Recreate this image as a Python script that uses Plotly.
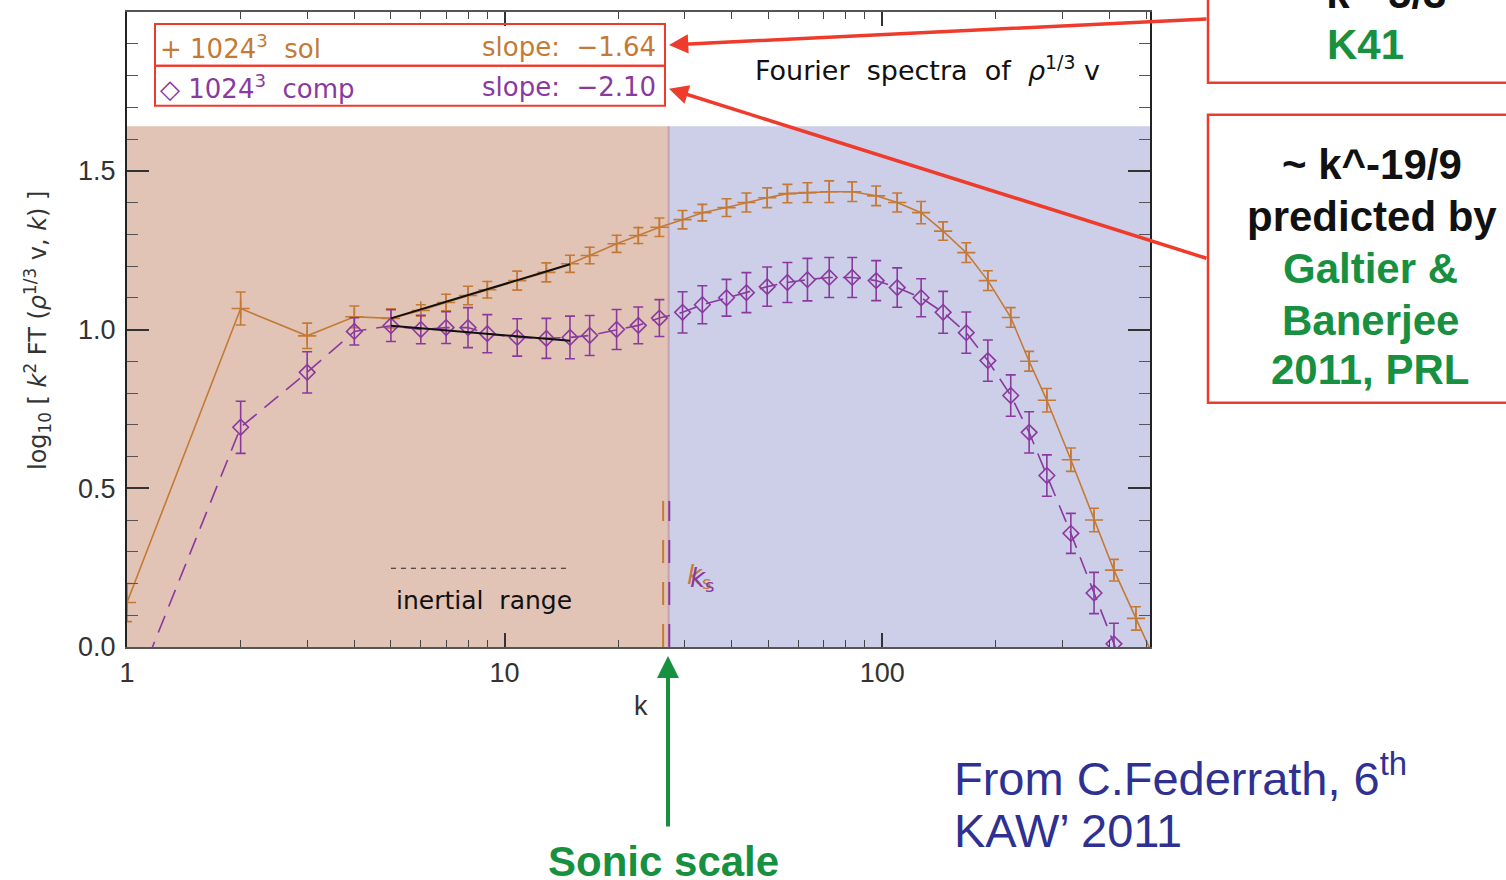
import math
import plotly.graph_objects as go

# Wavenumber bins and compensated spectra log10[k^2 FT(rho^(1/3) v, k)]
k = [1, 2, 3, 4, 5, 6, 7, 8, 9, 10.8, 12.9, 14.9, 16.8, 19.8, 22.6, 25.7, 29.6,
     33.4, 38.7, 43.7, 49.6, 56.1, 63.4, 72.4, 83.3, 96.4, 109.6, 126.8, 145,
     167, 190.5, 219, 245, 273, 316, 364, 411, 470, 532]

sol = [0.14, 1.066, 0.98, 1.04, 1.035, 1.06, 1.085, 1.107, 1.125, 1.154, 1.18,
       1.207, 1.233, 1.27, 1.296, 1.322, 1.346, 1.368, 1.384, 1.40, 1.415, 1.428,
       1.431, 1.434, 1.434, 1.421, 1.40, 1.368, 1.31, 1.242, 1.154, 1.038, 0.90,
       0.777, 0.59, 0.40, 0.242, 0.09, -0.05]
sol_err = [0.06, 0.052, 0.04, 0.034, 0.03, 0.018, 0.026, 0.029, 0.026, 0.03, 0.03,
           0.027, 0.026, 0.027, 0.025, 0.029, 0.029, 0.026, 0.028, 0.03, 0.031,
           0.029, 0.031, 0.034, 0.031, 0.031, 0.03, 0.035, 0.029, 0.031, 0.031,
           0.031, 0.031, 0.037, 0.037, 0.037, 0.034, 0.037, 0.037]

comp = [-0.2, 0.692, 0.865, 0.994, 1.012, 1.0, 1.006, 1.006, 0.987, 0.975, 0.972,
        0.975, 0.981, 1.0, 1.013, 1.036, 1.054, 1.078, 1.10, 1.116, 1.135, 1.148,
        1.157, 1.164, 1.164, 1.154, 1.132, 1.10, 1.054, 0.99, 0.902, 0.792, 0.676,
        0.54, 0.358, 0.17, 0.01, -0.18, None]
comp_err = [0.08, 0.082, 0.065, 0.043, 0.05, 0.045, 0.05, 0.063, 0.06, 0.059, 0.063,
            0.067, 0.063, 0.063, 0.058, 0.058, 0.065, 0.06, 0.058, 0.063, 0.062,
            0.063, 0.067, 0.063, 0.063, 0.063, 0.062, 0.06, 0.066, 0.065, 0.065,
            0.065, 0.065, 0.065, 0.063, 0.065, 0.065, 0.065, 0.065]

# Inertial-range power-law fits (slopes of the uncompensated spectra)
fit_k = [5, 14.9]
sol_slope, comp_slope = -1.64, -2.10
sol_fit_at5, comp_fit_at5 = 1.035, 1.012

# Sonic scales
ks_sol, ks_comp = 26.3, 27.3
ks_split = 27.2

ORANGE = "#C47A36"
PURPLE = "#8A3A9E"
RED = "#EF3B2C"
GREEN = "#17903F"
NAVY = "#2E3192"

W, H = 1506, 880
L, R, T, B = 127, 1150, 10, 647


def PX(x):
    return (x - L) / (R - L)


def PY(y):
    return (B - y) / (B - T)


def fit_line(a_at5, slope):
    c = 2 + slope
    return [a_at5 + c * (math.log10(kk) - math.log10(5)) for kk in fit_k]


fig = go.Figure()

# solenoidal run
fig.add_trace(go.Scatter(
    x=k, y=sol, mode="lines+markers",
    line=dict(color=ORANGE, width=1.6),
    marker=dict(symbol="cross-thin", size=13, line=dict(color=ORANGE, width=1.6)),
    error_y=dict(type="data", array=sol_err, color=ORANGE, thickness=1.6, width=5),
    showlegend=False, cliponaxis=True))

# compressive run
fig.add_trace(go.Scatter(
    x=k, y=comp, mode="lines+markers",
    line=dict(color=PURPLE, width=1.6, dash="18px,10px"),
    marker=dict(symbol="diamond-open", size=12, color=PURPLE, line=dict(width=1.6)),
    error_y=dict(type="data", array=comp_err, color=PURPLE, thickness=1.6, width=5),
    showlegend=False, connectgaps=False, cliponaxis=True))

# power-law fits over the inertial range
fig.add_trace(go.Scatter(x=fit_k, y=fit_line(sol_fit_at5, sol_slope), mode="lines",
                         line=dict(color="#111111", width=2), showlegend=False))
fig.add_trace(go.Scatter(x=fit_k, y=fit_line(comp_fit_at5, comp_slope), mode="lines",
                         line=dict(color="#111111", width=2), showlegend=False))

# inertial range marker
fig.add_trace(go.Scatter(x=fit_k, y=[0.248, 0.248], mode="lines",
                         line=dict(color="#222222", width=1.2, dash="5px,5px"),
                         showlegend=False))

# sonic-scale markers
fig.add_trace(go.Scatter(x=[ks_sol, ks_sol], y=[0, 0.46], mode="lines",
                         line=dict(color=ORANGE, width=2, dash="23px,19px"),
                         showlegend=False))
fig.add_trace(go.Scatter(x=[ks_comp, ks_comp], y=[0, 0.46], mode="lines",
                         line=dict(color=PURPLE, width=2, dash="23px,19px"),
                         showlegend=False))

shapes = [
    dict(type="rect", xref="x", yref="y", x0=1, x1=ks_split, y0=0, y1=1.64,
         fillcolor="rgb(226,196,182)", line=dict(width=0), layer="below"),
    dict(type="rect", xref="x", yref="y", x0=ks_split, x1=512, y0=0, y1=1.64,
         fillcolor="rgb(205,207,233)", line=dict(width=0), layer="below"),
    dict(type="line", xref="x", yref="y", x0=ks_split, x1=ks_split, y0=0, y1=1.64,
         line=dict(color="rgba(190,150,170,0.8)", width=2), layer="below"),
    # legend frame
    dict(type="rect", xref="paper", yref="paper", x0=PX(155), x1=PX(665),
         y0=PY(64), y1=PY(22), line=dict(color=RED, width=2)),
    dict(type="rect", xref="paper", yref="paper", x0=PX(155), x1=PX(665),
         y0=PY(104), y1=PY(64), line=dict(color=RED, width=2)),
    # side boxes
    dict(type="rect", xref="paper", yref="paper", x0=PX(1208), x1=PX(1530),
         y0=PY(81), y1=PY(-20), line=dict(color=RED, width=2.5)),
    dict(type="rect", xref="paper", yref="paper", x0=PX(1208), x1=PX(1530),
         y0=PY(402), y1=PY(113), line=dict(color=RED, width=2.5)),
]

PLOTFONT = "DejaVu Sans"
ARIAL = "Liberation Sans"

ann = []


def text(x, y, s, size, color, family=PLOTFONT, xanchor="center", **kw):
    ann.append(dict(x=PX(x), y=PY(y), xref="paper", yref="paper", text=s,
                    showarrow=False, xanchor=xanchor, yanchor="middle",
                    font=dict(size=size, color=color, family=family), **kw))


# legend entries
text(158, 45, "+ 1024<sup>3</sup>  sol", 26, ORANGE, xanchor="left")
text(658, 45, "slope:  \u22121.64", 26, ORANGE, xanchor="right")
text(158, 85, "\u25c7 1024<sup>3</sup>  comp", 26, PURPLE, xanchor="left")
text(658, 85, "slope:  \u22122.10", 26, PURPLE, xanchor="right")
text(927, 67, "Fourier  spectra  of  <i>\u03c1</i><sup>1/3</sup> v", 27, "#111111")

# in-plot labels
text(484, 600, "inertial  range", 25, "#111111")
text(699, 576, "<i>k</i><sub>s</sub>", 26, ORANGE)
text(702, 579, "<i>k</i><sub>s</sub>", 26, PURPLE)

# axis titles
text(641, 706, "k", 27, "#333333", family=ARIAL)
text(38, 330, "log<sub>10</sub> [ <i>k</i><sup>2</sup> FT (<i>\u03c1</i><sup>1/3</sup> v, <i>k</i>) ]",
     24, "#333333", textangle=-90)

# side notes
text(1368, -9, "<b>~ k^-5/3</b>", 42, "#111111", family=ARIAL)
text(1365, 43, "<b>K41</b>", 42, GREEN, family=ARIAL)
text(1372, 163, "<b>~ k^-19/9</b>", 42, "#111111", family=ARIAL)
text(1372, 215, "<b>predicted by</b>", 42, "#111111", family=ARIAL)
text(1370, 267, "<b>Galtier &amp;</b>", 42, GREEN, family=ARIAL)
text(1370, 319, "<b>Banerjee</b>", 42, GREEN, family=ARIAL)
text(1370, 369, "<b>2011, PRL</b>", 42, GREEN, family=ARIAL)
text(952, 775, "From C.Federrath, 6<sup>th</sup>", 47, NAVY, family=ARIAL, xanchor="left")
text(952, 831, "KAW\u2019 2011", 47, NAVY, family=ARIAL, xanchor="left")
text(663, 862, "<b>Sonic scale</b>", 42, GREEN, family=ARIAL)

# arrows
for (hx, hy, tx, ty, col, wid) in [(669, 43, 1208, 17, RED, 3.5),
                                   (669, 87, 1208, 257, RED, 3.5),
                                   (668, 656, 668, 828, GREEN, 4)]:
    ann.append(dict(x=PX(hx), y=PY(hy), xref="paper", yref="paper", text="",
                    showarrow=True, ax=tx - hx, ay=ty - hy, arrowcolor=col,
                    arrowwidth=wid, arrowhead=2, arrowsize=1.1, standoff=0))

minor_x = [2, 3, 4, 5, 6, 7, 8, 9, 20, 30, 40, 50, 60, 70, 80, 90, 200, 300, 400, 500]

fig.update_layout(
    width=W, height=H,
    margin=dict(l=L, r=W - R, t=T, b=H - B, pad=0),
    paper_bgcolor="white", plot_bgcolor="white",
    shapes=shapes, annotations=ann,
    xaxis=dict(type="log", range=[0, math.log10(512)], showgrid=False, zeroline=False,
               tickmode="array", tickvals=[1, 10, 100], ticktext=["1", "10", "100"],
               ticks="inside", ticklen=14, tickwidth=1.5, tickcolor="#333333",
               minor=dict(tickmode="array", tickvals=minor_x, ticks="inside",
                          ticklen=7, tickwidth=1.2, tickcolor="#444444", showgrid=False),
               showline=True, linecolor="#555555", linewidth=1.5, mirror="ticks",
               tickfont=dict(size=27, color="#333333", family=ARIAL),
               ticklabelstandoff=1),
    yaxis=dict(range=[0, 2.0], showgrid=False, zeroline=False,
               tickmode="array", tickvals=[0, 0.5, 1.0, 1.5],
               ticktext=["0.0", "0.5", "1.0", "1.5"],
               ticks="inside", ticklen=22, tickwidth=1.5, tickcolor="#333333",
               minor=dict(dtick=0.1, ticks="inside", ticklen=11, tickwidth=1.2,
                          tickcolor="#555555", showgrid=False),
               showline=True, linecolor="#222222", linewidth=2, mirror="ticks",
               tickfont=dict(size=27, color="#333333", family=ARIAL),
               ticklabelstandoff=4),
)

fig.write_html("out.html")
